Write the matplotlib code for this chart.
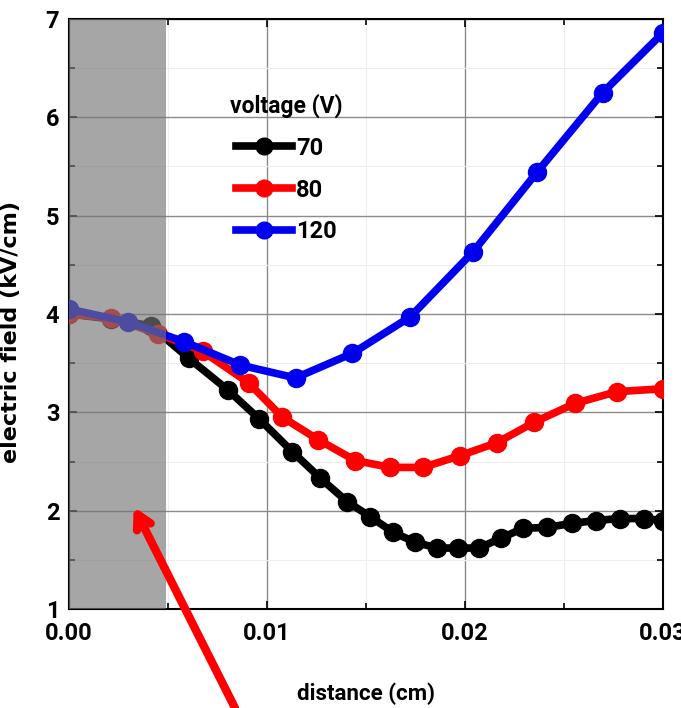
import matplotlib.pyplot as plt
from matplotlib.ticker import MultipleLocator, FormatStrFormatter

# field profiles for three applied voltages
x_70 = [0.0, 0.00212, 0.00413, 0.00605, 0.00801, 0.00962, 0.01128, 0.0127, 0.01406,
        0.01521, 0.01637, 0.01748, 0.01859, 0.01965, 0.02071, 0.02181, 0.02292,
        0.02413, 0.02539, 0.0266, 0.02781, 0.02902, 0.03]
e_70 = [4.0, 3.95, 3.88, 3.55, 3.23, 2.93, 2.60, 2.33, 2.09, 1.94, 1.78, 1.68, 1.62,
        1.62, 1.62, 1.72, 1.82, 1.83, 1.87, 1.90, 1.92, 1.92, 1.90]

x_80 = [0.0, 0.00212, 0.00448, 0.00675, 0.00907, 0.01078, 0.0126, 0.01446, 0.01622,
        0.01788, 0.01975, 0.0216, 0.0235, 0.02554, 0.02766, 0.03]
e_80 = [4.0, 3.96, 3.80, 3.62, 3.30, 2.95, 2.72, 2.51, 2.44, 2.44, 2.56, 2.69, 2.90,
        3.09, 3.21, 3.24]

x_120 = [0.0, 0.00297, 0.00579, 0.00866, 0.01144, 0.01431, 0.01723, 0.0204, 0.02363,
         0.02695, 0.03]
e_120 = [4.05, 3.92, 3.72, 3.48, 3.35, 3.60, 3.97, 4.63, 5.44, 6.25, 6.86]

series = [(x_70, e_70, "black", "70"), (x_80, e_80, "#ff0000", "80"),
          (x_120, e_120, "#0000ee", "120")]

narrow = ["Roboto", "DejaVu Sans"]

fig = plt.figure(figsize=(6.81, 7.08), dpi=100)
ax = fig.add_axes([0.1013, 0.1398, 0.8723, 0.8334])

for xs, ys, c, lab in series:
    ax.plot(xs, ys, "-o", color=c, lw=5.5, ms=13, label=lab, zorder=3)

# shaded electrode region
ax.axvspan(0, 0.0049, color="#767676", alpha=0.65, lw=0, zorder=4)

ax.set_xlim(0, 0.03)
ax.set_ylim(1, 7)
ax.xaxis.set_major_locator(MultipleLocator(0.01))
ax.xaxis.set_minor_locator(MultipleLocator(0.005))
ax.yaxis.set_major_locator(MultipleLocator(1))
ax.yaxis.set_minor_locator(MultipleLocator(0.5))
ax.xaxis.set_major_formatter(FormatStrFormatter("%.2f"))
ax.grid(which="major", color="#8a8a8a", lw=1.0, zorder=1)
ax.grid(which="minor", color="#eeeeee", lw=0.8, zorder=1)
ax.set_axisbelow(True)
ax.tick_params(which="both", direction="in", top=True, right=True, width=1.2)
ax.tick_params(which="major", length=6, pad=7)
ax.tick_params(axis="x", which="major", pad=9)
ax.tick_params(which="minor", length=4)
for sp in ax.spines.values():
    sp.set_linewidth(1.5)

for t in ax.get_xticklabels() + ax.get_yticklabels():
    t.set_fontfamily(narrow)
    t.set_fontweight("bold")
    t.set_fontsize(17)

ax.set_xlabel("distance (cm)", fontfamily=narrow, fontweight="bold", fontsize=16)
ax.xaxis.set_label_coords(0.5, -0.125)
ax.set_ylabel("electric field (kV/cm)", fontfamily=["DejaVu Sans"], fontweight="bold",
              fontsize=16)
ax.yaxis.set_label_coords(-0.08, 0.47)

leg = ax.legend(loc="upper left", bbox_to_anchor=(0.235, 0.91), frameon=False,
                title="voltage (V)", handlelength=2.4, handletextpad=0.15,
                labelspacing=0.8, prop={"family": narrow, "weight": "bold", "size": 17})
leg.get_title().set_fontfamily(narrow)
leg.get_title().set_fontweight("bold")
leg.get_title().set_fontsize(16.5)
for h in leg.legend_handles:
    h.set_markersize(12)

# pointer into the shaded region
ax.annotate("", xy=(0.00327, 2.04), xycoords="data",
            xytext=(235 / 681, 0.0), textcoords="figure fraction",
            arrowprops=dict(arrowstyle="->,head_length=1.0,head_width=0.55", color="red",
                            lw=6, shrinkA=0, shrinkB=0),
            annotation_clip=False, zorder=6)

fig.savefig("out.png", dpi=100)
